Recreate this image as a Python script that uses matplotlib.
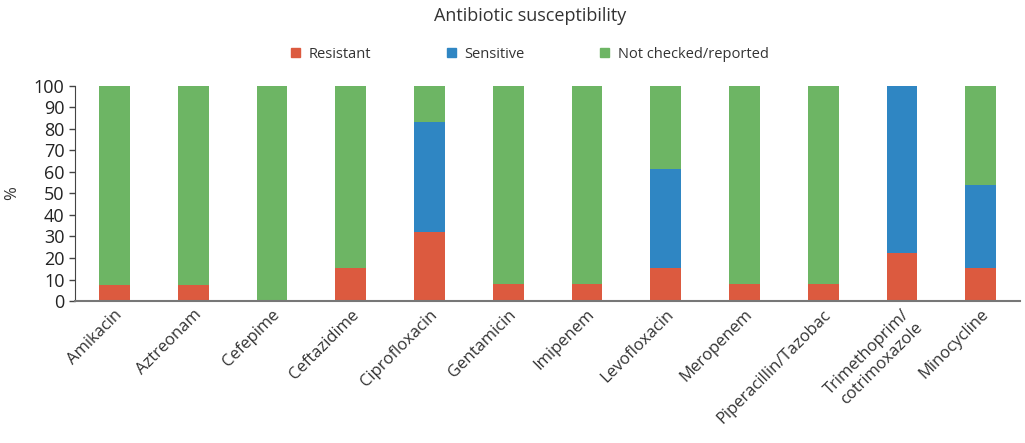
import numpy as np
import matplotlib
matplotlib.use("Agg")
import matplotlib.pyplot as plt
from matplotlib.patches import Patch

# Antibiotic susceptibility, stacked to 100 %
drugs = ["Amikacin", "Aztreonam", "Cefepime", "Ceftazidime", "Ciprofloxacin",
         "Gentamicin", "Imipenem", "Levofloxacin", "Meropenem",
         "Piperacillin/Tazobac", "Trimethoprim/\ncotrimoxazole", "Minocycline"]
resistant = [7.5, 7.5, 0, 15.4, 32.0, 7.7, 7.7, 15.4, 7.7, 7.7, 22.5, 15.4]
sensitive = [0, 0, 0, 0, 51.3, 0, 0, 46.2, 0, 0, 77.5, 38.4]
not_checked = [92.5, 92.5, 100, 84.6, 16.7, 92.3, 92.3, 38.4, 92.3, 92.3, 0, 46.2]

c_res = "#dc5a3f"
c_sen = "#2f86c3"
c_not = "#6db564"

plt.rcParams['font.family'] = ['Open Sans', 'DejaVu Sans']

fig = plt.figure(figsize=(10.25, 4.43), dpi=100)
ax = fig.add_axes([0.0732, 0.3205, 0.922, 0.4855])

x = np.arange(len(drugs))
w = 0.39
r = np.array(resistant)
s = np.array(sensitive)
n = np.array(not_checked)
ax.bar(x, r, w, color=c_res)
ax.bar(x, s, w, bottom=r, color=c_sen)
ax.bar(x, n, w, bottom=r + s, color=c_not)

ax.set_xlim(-0.5, len(drugs) - 0.5)
ax.set_ylim(0, 100)
ax.set_yticks(range(0, 101, 10))
ax.tick_params(axis='y', labelsize=13, length=4, width=1, color="#444444")
ax.tick_params(axis='x', length=0, labelsize=12, pad=4)
ax.set_xticks(x)
ax.set_xticklabels(drugs, rotation=45, ha='right', rotation_mode='anchor',
                   color="#333333")
for t in ax.get_yticklabels():
    t.set_color("#222222")
for sp in ["top", "right"]:
    ax.spines[sp].set_visible(False)
ax.spines["left"].set_color("#444444")
ax.spines["bottom"].set_color("#777777")
ax.spines["bottom"].set_linewidth(1.5)
ax.set_ylabel("%", fontsize=12, color="#333333", labelpad=10)

fig.text(0.517, 0.965, "Antibiotic susceptibility", ha='center', va='center',
         fontsize=13, color="#333333")
handles = [Patch(color=c_res, label="Resistant"),
           Patch(color=c_sen, label="Sensitive"),
           Patch(color=c_not, label="Not checked/reported")]
leg = fig.legend(handles=handles, loc='center', bbox_to_anchor=(0.517, 0.877),
                 ncol=3, frameon=False, fontsize=10.5, handlelength=0.6,
                 handleheight=0.6, handletextpad=0.6, columnspacing=5.2)
for t in leg.get_texts():
    t.set_color("#333333")

fig.savefig("out.png", dpi=100)
